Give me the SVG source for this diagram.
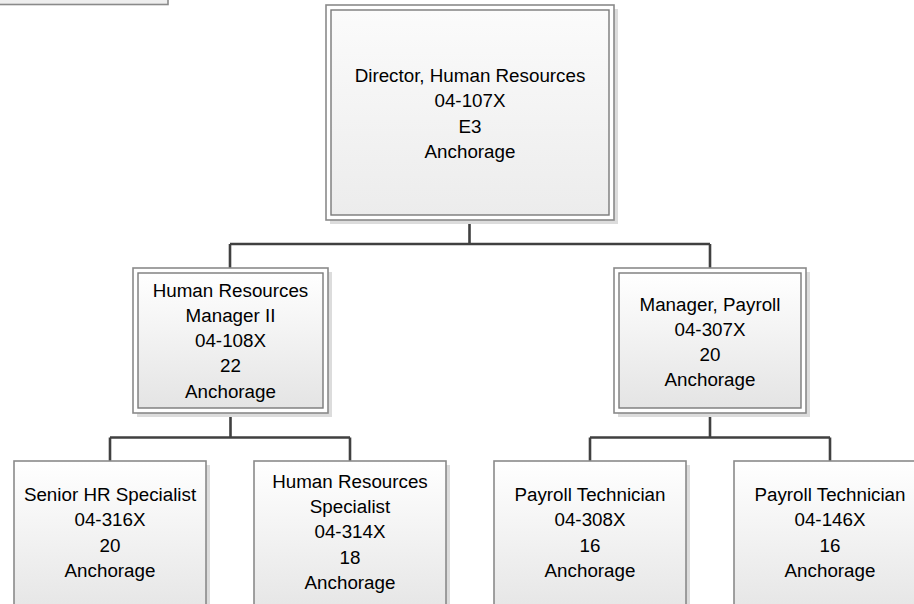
<svg xmlns="http://www.w3.org/2000/svg" width="914" height="604" viewBox="0 0 914 604">
<defs>
<linearGradient id="g" x1="0" y1="0" x2="0" y2="1">
<stop offset="0" stop-color="#ffffff"/>
<stop offset="1" stop-color="#e4e4e4"/>
</linearGradient>
<linearGradient id="gt" x1="0" y1="0" x2="0" y2="1">
<stop offset="0" stop-color="#fbfbfb"/>
<stop offset="1" stop-color="#ececec"/>
</linearGradient>
</defs>
<style>
.sh{fill:#dcdcdc}
.ob{fill:#ffffff;stroke:#8a8a8a;stroke-width:1.6}
.ib{stroke:#7a7a7a;stroke-width:1.4}
.sb{fill:url(#g);stroke:#8a8a8a;stroke-width:1.6}
.t{font-family:"Liberation Sans",Arial,sans-serif;font-size:18.8px;fill:#000;text-anchor:middle}
.c{fill:none;stroke:#404040;stroke-width:2.6}
</style>
<rect x="-2" y="-10" width="170" height="14.5" fill="#eeeeee" stroke="#8a8a8a" stroke-width="1.6"/>

<g id="connectors">
<path class="c" d="M469.5 220 V244 M230 244 H710 M230 244 V268 M710 244 V268"/>
<path class="c" d="M230.5 413 V437.5 M110 437.5 H350 M110 437.5 V461 M350 437.5 V461"/>
<path class="c" d="M710 413 V437.5 M590 437.5 H830 M590 437.5 V461 M830 437.5 V461"/>
</g>

<g id="director">
<rect class="sh" x="330" y="9" width="288" height="215"/>
<rect class="ob" x="326" y="5" width="288" height="215"/>
<rect class="ib" fill="url(#gt)" x="331" y="10" width="278" height="205"/>
<text class="t" x="470" y="81.5">Director, Human Resources</text>
<text class="t" x="470" y="107">04-107X</text>
<text class="t" x="470" y="132.5">E3</text>
<text class="t" x="470" y="158">Anchorage</text>
</g>

<g id="hr-manager">
<rect class="sh" x="137" y="272" width="195" height="145"/>
<rect class="ob" x="133" y="268" width="195" height="145"/>
<rect class="ib" fill="url(#g)" x="138" y="273" width="185" height="135"/>
<text class="t" x="230.5" y="296.5">Human Resources</text>
<text class="t" x="230.5" y="322">Manager II</text>
<text class="t" x="230.5" y="347">04-108X</text>
<text class="t" x="230.5" y="372">22</text>
<text class="t" x="230.5" y="397.5">Anchorage</text>
</g>

<g id="payroll-manager">
<rect class="sh" x="618" y="272" width="192" height="145"/>
<rect class="ob" x="614" y="268" width="192" height="145"/>
<rect class="ib" fill="url(#g)" x="619" y="273" width="182" height="135"/>
<text class="t" x="710" y="311">Manager, Payroll</text>
<text class="t" x="710" y="336">04-307X</text>
<text class="t" x="710" y="361">20</text>
<text class="t" x="710" y="386">Anchorage</text>
</g>

<g id="senior-hr">
<rect class="sh" x="18" y="465" width="192" height="160"/>
<rect class="sb" x="14" y="461" width="192" height="160"/>
<text class="t" x="110" y="500.5">Senior HR Specialist</text>
<text class="t" x="110" y="526">04-316X</text>
<text class="t" x="110" y="551.5">20</text>
<text class="t" x="110" y="577">Anchorage</text>
</g>

<g id="hr-specialist">
<rect class="sh" x="258" y="465" width="192" height="160"/>
<rect class="sb" x="254" y="461" width="192" height="160"/>
<text class="t" x="350" y="487.5">Human Resources</text>
<text class="t" x="350" y="513">Specialist</text>
<text class="t" x="350" y="538">04-314X</text>
<text class="t" x="350" y="563.5">18</text>
<text class="t" x="350" y="589">Anchorage</text>
</g>

<g id="payroll-tech-1">
<rect class="sh" x="498" y="465" width="192" height="160"/>
<rect class="sb" x="494" y="461" width="192" height="160"/>
<text class="t" x="590" y="500.5">Payroll Technician</text>
<text class="t" x="590" y="526">04-308X</text>
<text class="t" x="590" y="551.5">16</text>
<text class="t" x="590" y="577">Anchorage</text>
</g>

<g id="payroll-tech-2">
<rect class="sh" x="738" y="465" width="192" height="160"/>
<rect class="sb" x="734" y="461" width="192" height="160"/>
<text class="t" x="830" y="500.5">Payroll Technician</text>
<text class="t" x="830" y="526">04-146X</text>
<text class="t" x="830" y="551.5">16</text>
<text class="t" x="830" y="577">Anchorage</text>
</g>
</svg>
